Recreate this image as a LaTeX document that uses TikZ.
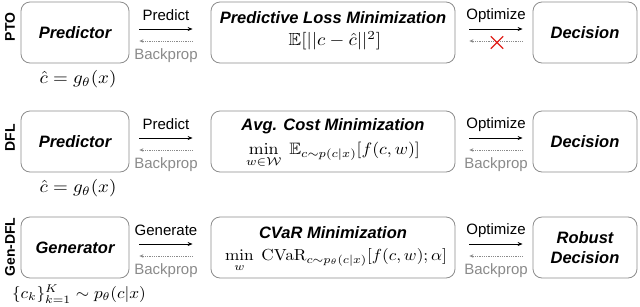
\documentclass[tikz,border=0pt]{standalone}
\usepackage{amsmath,amssymb}
\usepackage[no-math]{fontspec}
\setmainfont{Liberation Sans}
\usetikzlibrary{arrows.meta,shapes.misc}
\definecolor{boxgray}{HTML}{8C8C8C}
\definecolor{bpgray}{HTML}{8A8A8A}
\definecolor{xred}{HTML}{E0201B}
\tikzset{
 box/.style={draw=boxgray, line width=0.8pt, rounded corners=9pt, minimum height=61pt, inner sep=0pt, align=center},
 ttl/.style={font=\fontsize{16.5}{20}\selectfont\bfseries\itshape},
 lbl/.style={font=\fontsize{15}{18}\selectfont, inner sep=0pt},
 bp/.style={lbl, text=bpgray},
 fwd/.style={-{Stealth[length=5pt,width=4pt]}, line width=0.8pt},
 bwd/.style={-{Stealth[length=4pt,width=3.5pt]}, densely dotted, draw=bpgray, line width=0.8pt},
 side/.style={font=\fontsize{14}{16}\selectfont\bfseries, rotate=90, inner sep=0pt},
 mth/.style={font=\fontsize{10}{12}\selectfont, xscale=1.9, yscale=1.75, inner sep=0pt},
 mthm/.style={font=\fontsize{10}{12}\selectfont, xscale=1.78, yscale=1.65, inner sep=0pt},
 mths/.style={font=\fontsize{10}{12}\selectfont, xscale=1.72, yscale=1.6, inner sep=0pt}
}
\begin{document}
\begin{tikzpicture}[x=1pt,y=-1pt]
\useasboundingbox (0,0) rectangle (640,306);
% side labels
\node[side] (s1) at (10,27) {PTO};
\node[side] (s2) at (10,138) {DFL};
\node[side] (s3) at (10,247) {Gen-DFL};
% row 1
\node[box, minimum width=108pt, ttl] (p1) at (75,32.5) {Predictor};
\node[box, minimum width=244pt] (m1) at (333,32.5) {};
\node[ttl, inner sep=0pt] (m1t) at (333,17.5) {Predictive Loss Minimization};
\node[mth] (m1m) at (335,41) {$\mathbb{E}[||c-\hat{c}||^2]$};
\node[box, minimum width=104pt, ttl] (d1) at (585,32.5) {Decision};
\node[mth] (b1) at (78,79) {$\hat{c}=g_\theta(x)$};
\node[lbl] (l1a) at (166,15.5) {Predict};
\node[bp] (l1b) at (166,55.5) {Backprop};
\node[lbl] (l1c) at (496,15.5) {Optimize};
\draw[fwd] ([xshift=10pt,yshift=3.5pt]p1.east) -- ([xshift=-18pt,yshift=3.5pt]m1.west);
\draw[bwd] ([xshift=-18pt,yshift=-8.5pt]m1.west) -- ([xshift=10pt,yshift=-8.5pt]p1.east);
\draw[fwd] ([xshift=14pt,yshift=3.5pt]m1.east) -- ([xshift=-10pt,yshift=3.5pt]d1.west);
\draw[bwd] ([xshift=-10pt,yshift=-8.5pt]d1.west) -- ([xshift=14pt,yshift=-8.5pt]m1.east);
\node[cross out, draw=xred, line width=1.4pt, minimum width=11pt, minimum height=11pt, inner sep=0pt] (x1) at (497,42.5) {};
% row 2
\node[box, minimum width=108pt, ttl] (p2) at (75,141.5) {Predictor};
\node[box, minimum width=244pt] (m2) at (333,141.5) {};
\node[ttl, inner sep=0pt] (m2t) at (333,126.5) {Avg. Cost Minimization};
\node[mthm] (m2m) at (333,155) {$\min\limits_{w\in\mathcal{W}}\ \mathbb{E}_{c\sim p(c|x)}[f(c,w)]$};
\node[box, minimum width=104pt, ttl] (d2) at (585,141.5) {Decision};
\node[mth] (b2) at (78,188) {$\hat{c}=g_\theta(x)$};
\node[lbl] (l2a) at (166,124.5) {Predict};
\node[bp] (l2b) at (166,164.5) {Backprop};
\node[lbl] (l2c) at (496,124.5) {Optimize};
\node[bp] (l2d) at (496,164.5) {Backprop};
\draw[fwd] ([xshift=10pt,yshift=3.5pt]p2.east) -- ([xshift=-18pt,yshift=3.5pt]m2.west);
\draw[bwd] ([xshift=-18pt,yshift=-8.5pt]m2.west) -- ([xshift=10pt,yshift=-8.5pt]p2.east);
\draw[fwd] ([xshift=14pt,yshift=3.5pt]m2.east) -- ([xshift=-10pt,yshift=3.5pt]d2.west);
\draw[bwd] ([xshift=-10pt,yshift=-8.5pt]d2.west) -- ([xshift=14pt,yshift=-8.5pt]m2.east);
% row 3
\node[box, minimum width=108pt, ttl] (p3) at (75,247.5) {Generator};
\node[box, minimum width=244pt] (m3) at (333,247.5) {};
\node[ttl, inner sep=0pt] (m3t) at (333,232.5) {CVaR Minimization};
\node[mths] (m3m) at (336,260) {$\min\limits_{w}\ \mathrm{CVaR}_{c\sim p_\theta(c|x)}[f(c,w);\alpha]$};
\node[box, minimum width=104pt, ttl] (d3) at (585,247.5) {Robust\\Decision};
\node[mths] (b3) at (79,294) {$\{c_k\}_{k=1}^K\sim p_\theta(c|x)$};
\node[lbl] (l3a) at (166,230.5) {Generate};
\node[bp] (l3b) at (166,270.5) {Backprop};
\node[lbl] (l3c) at (496,230.5) {Optimize};
\node[bp] (l3d) at (496,270.5) {Backprop};
\draw[fwd] ([xshift=10pt,yshift=3.5pt]p3.east) -- ([xshift=-18pt,yshift=3.5pt]m3.west);
\draw[bwd] ([xshift=-18pt,yshift=-8.5pt]m3.west) -- ([xshift=10pt,yshift=-8.5pt]p3.east);
\draw[fwd] ([xshift=14pt,yshift=3.5pt]m3.east) -- ([xshift=-10pt,yshift=3.5pt]d3.west);
\draw[bwd] ([xshift=-10pt,yshift=-8.5pt]d3.west) -- ([xshift=14pt,yshift=-8.5pt]m3.east);
\end{tikzpicture}
\end{document}
